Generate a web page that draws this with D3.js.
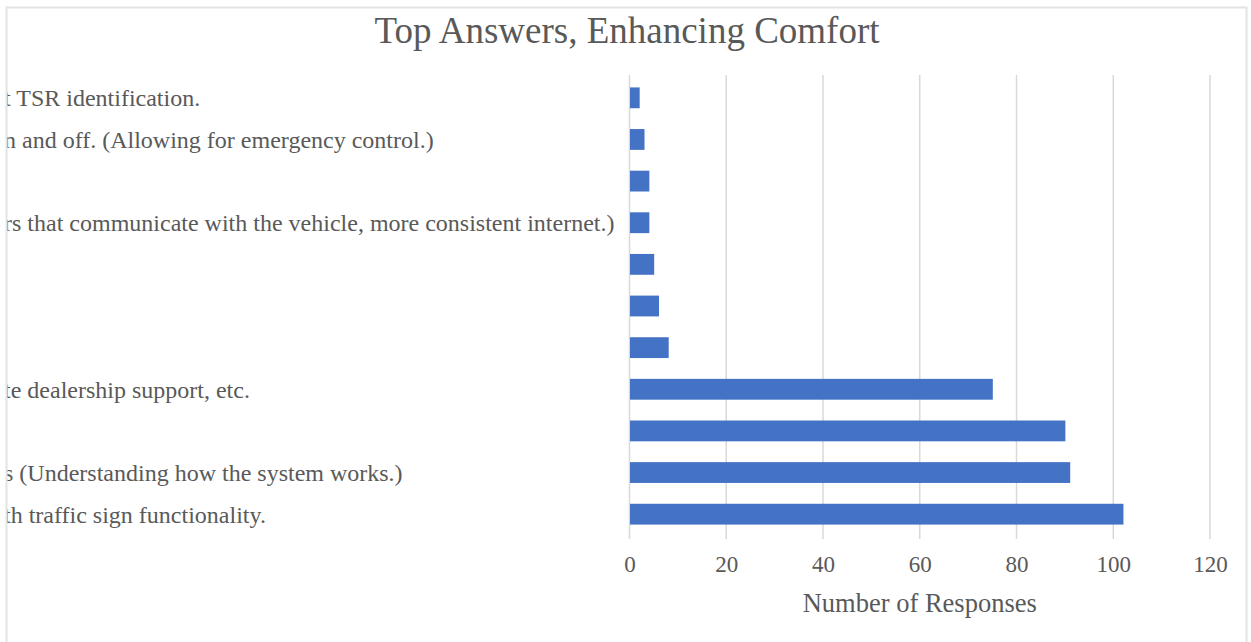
<!DOCTYPE html>
<html>
<head>
<meta charset="utf-8">
<script src="https://cdn.jsdelivr.net/npm/d3@7"></script>
<style>
  body { margin: 0; background: #fff; }
  svg { display: block; }
</style>
</head>
<body>
<div id="chart"></div>
<script>
// categories as they show in the picture (left side is cut by the frame)
const categories = [
    "t TSR identification.",
    "n and off. (Allowing for emergency control.)",
    "",
    "rs that communicate with the vehicle, more consistent internet.)",
    "",
    "",
    "",
    "te dealership support, etc.",
    "",
    "s (Understanding how the system works.)",
    "th traffic sign functionality."
];
const responses = [2, 3, 4, 4, 5, 6, 8, 75, 90, 91, 102];
const xTicks = [0, 20, 40, 60, 80, 100, 120];

const width = 1251, height = 642;
const dim = { left: 629.5, right: 1210, top: 77, bottom: 535 };
const serif = "'Liberation Serif', 'Times New Roman', serif";

const svg = d3.select("#chart").append("svg")
    .attr("width", width)
    .attr("height", height);

// chart frame
svg.append("rect")
    .attr("x", 6.5).attr("y", 7.5)
    .attr("width", 1240).attr("height", 660)
    .attr("fill", "#fff")
    .attr("stroke", "#e3e3e3")
    .attr("stroke-width", 2);

svg.append("clipPath").attr("id", "frame")
    .append("rect").attr("x", 7.5).attr("y", 0).attr("width", width).attr("height", height);

const x = d3.scaleLinear().domain([0, 120]).range([dim.left, dim.right]);
const y = d3.scaleBand()
    .domain(d3.range(categories.length))
    .range([dim.top, dim.bottom])
    .paddingInner(0.5)
    .paddingOuter(0.25);

// gridlines
svg.append("g")
    .selectAll("line")
    .data(xTicks)
    .join("line")
    .attr("x1", d => x(d)).attr("x2", d => x(d))
    .attr("y1", dim.top - 2).attr("y2", dim.bottom + 4)
    .attr("stroke", "#d9d9d9")
    .attr("stroke-width", 1.5);

// bars
svg.append("g")
    .selectAll("rect")
    .data(responses)
    .join("rect")
    .attr("x", x(0) + 0.5)
    .attr("y", (d, i) => y(i))
    .attr("width", d => x(d) - x(0))
    .attr("height", y.bandwidth())
    .attr("fill", "#4472c4");

// category labels, cut by the frame on the left
svg.append("g")
    .attr("clip-path", "url(#frame)")
    .selectAll("text")
    .data(categories)
    .join("text")
    .attr("x", 4)
    .attr("y", (d, i) => y(i) + y.bandwidth() / 2)
    .attr("dy", "0.35em")
    .attr("fill", "#595959")
    .style("font-family", serif)
    .style("font-size", "24px")
    .text(d => d);

// x tick labels
const xAxis = d3.axisBottom(x).tickValues(xTicks).tickSize(0).tickPadding(0);
const ax = svg.append("g")
    .attr("transform", `translate(0,${dim.bottom + 21})`)
    .call(xAxis);
ax.select(".domain").remove();
ax.selectAll("text")
    .style("font-family", serif)
    .style("font-size", "23px")
    .attr("fill", "#595959");

svg.append("text")
    .attr("x", (dim.left + dim.right) / 2)
    .attr("y", 612)
    .attr("text-anchor", "middle")
    .attr("fill", "#595959")
    .style("font-family", serif)
    .style("font-size", "26.5px")
    .text("Number of Responses");

svg.append("text")
    .attr("x", 627)
    .attr("y", 43)
    .attr("text-anchor", "middle")
    .attr("fill", "#595959")
    .style("font-family", serif)
    .style("font-size", "37px")
    .text("Top Answers, Enhancing Comfort");
</script>
</body>
</html>
